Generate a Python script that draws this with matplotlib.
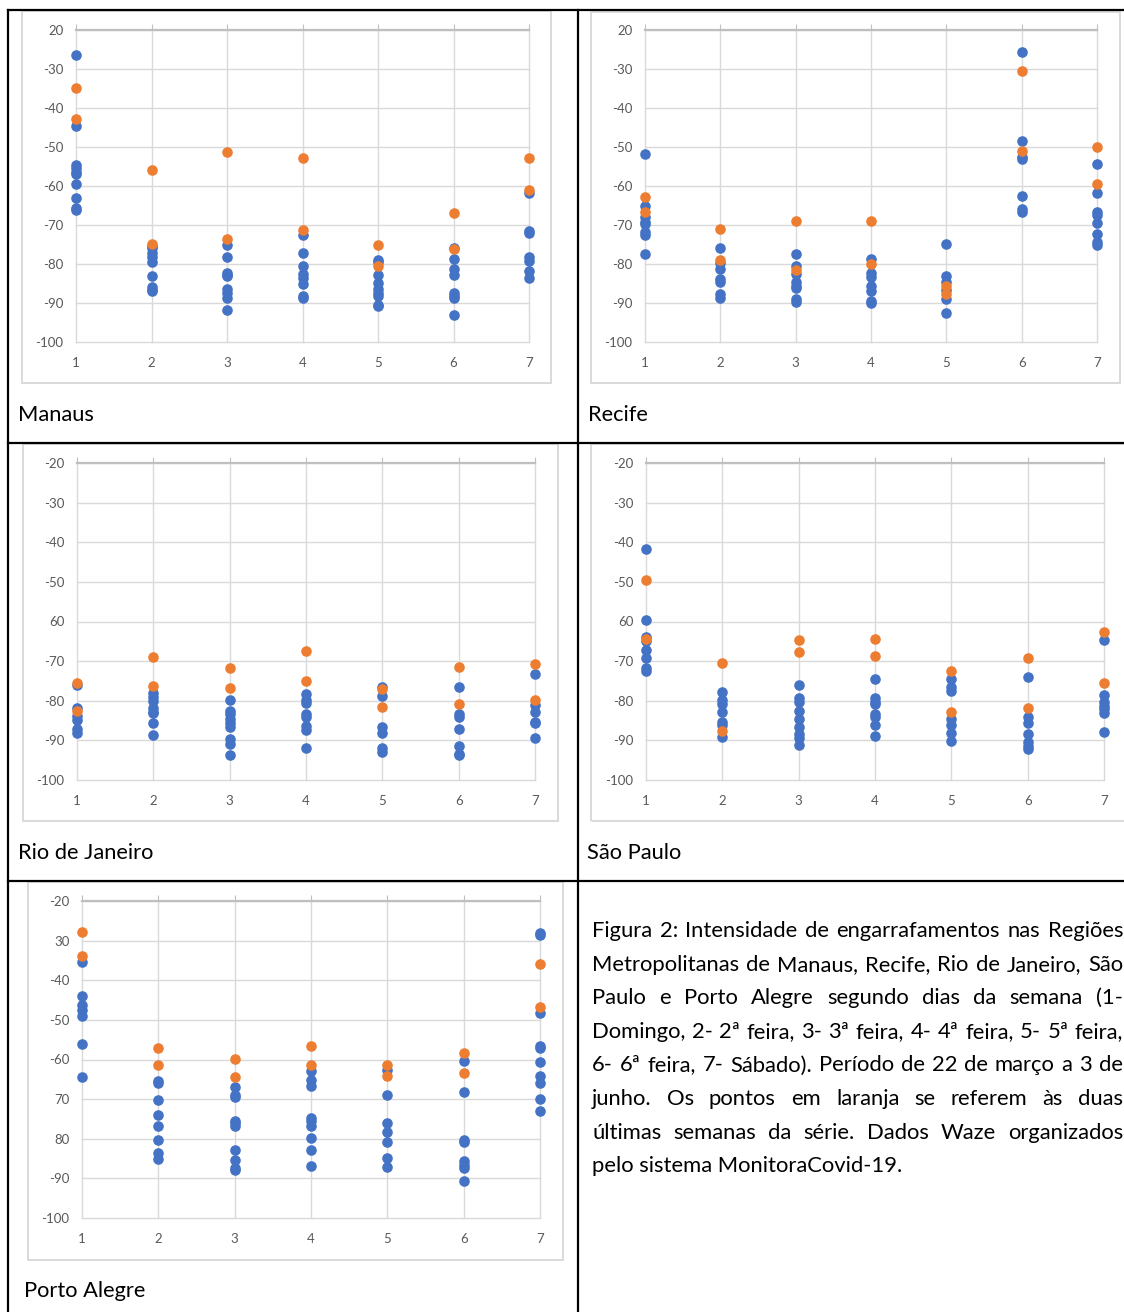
import matplotlib.pyplot as plt
from matplotlib.lines import Line2D
from matplotlib.patches import Rectangle

W, H = 1124, 1312

days = [1, 2, 3, 4, 5, 6, 7]
y_ticks = [-100, -90, -80, -70, -60, -50, -40, -30, -20]

# values read per day (1..7); orange = last two weeks
manaus_blue = [
    [-26.4, -44.6, -54.7, -55.5, -56.4, -57.0, -59.6, -63.2, -65.7, -66.2],
    [-75.5, -76.0, -77.2, -78.1, -79.5, -83.2, -85.8, -86.6, -87.0],
    [-75.0, -78.2, -82.2, -82.8, -83.2, -86.4, -87.5, -88.7, -91.7],
    [-72.6, -77.2, -80.4, -82.5, -83.7, -85.1, -88.3, -88.7],
    [-79.0, -79.4, -82.8, -84.9, -86.4, -87.5, -88.3, -90.4, -90.7],
    [-76.0, -78.8, -81.3, -82.8, -87.5, -88.3, -88.7, -93.0],
    [-61.9, -71.5, -72.1, -78.1, -79.2, -81.8, -83.5],
]
manaus_orange = [
    [-34.9, -42.8], [-55.9, -74.9], [-51.3, -73.7], [-52.8, -71.3],
    [-75.1, -80.5], [-66.8, -76.2], [-52.8, -60.9],
]
manaus_labels = ["-100", "-90", "-80", "-70", "-60", "-50", "-40", "-30", "20"]

recife_blue = [
    [-51.9, -65.1, -67.9, -69.2, -69.7, -71.9, -72.6, -77.4],
    [-75.8, -79.8, -81.3, -83.9, -84.5, -87.6, -88.6],
    [-77.4, -80.4, -82.5, -84.7, -85.6, -86.2, -89.0, -89.8],
    [-78.8, -82.4, -83.4, -85.6, -87.0, -89.6, -90.0],
    [-74.9, -83.2, -84.5, -86.6, -89.0, -92.6],
    [-25.7, -48.5, -52.5, -53.2, -62.6, -66.0, -66.6],
    [-54.4, -61.7, -66.6, -67.4, -69.6, -72.4, -74.3, -75.1],
]
recife_orange = [
    [-62.9, -66.6], [-71.0, -78.9], [-69.0, -81.5], [-68.9, -80.1],
    [-85.6, -87.6], [-30.6, -51.1], [-50.0, -59.4],
]
recife_labels = ["-100", "-90", "-80", "-70", "-60", "-50", "-40", "-30", "20"]

rio_blue = [
    [-76.0, -81.9, -83.9, -84.9, -87.2, -88.1],
    [-78.0, -79.0, -80.0, -81.9, -82.8, -83.2, -85.7, -88.7],
    [-79.8, -82.5, -83.4, -84.5, -85.5, -86.6, -89.7, -90.8, -93.7],
    [-78.2, -79.8, -80.5, -83.4, -84.2, -86.4, -87.4, -91.8],
    [-76.6, -78.8, -86.6, -88.1, -92.0, -92.9],
    [-76.5, -83.4, -84.2, -87.2, -91.3, -93.4, -93.8],
    [-73.3, -81.1, -82.8, -85.3, -85.5, -89.5],
]
rio_orange = [
    [-75.6, -82.5], [-68.9, -76.2], [-71.8, -76.9], [-67.4, -75.0],
    [-77.1, -81.5], [-71.4, -80.7], [-70.8, -79.7],
]
rio_labels = ["-100", "-90", "-80", "-70", "60", "-50", "-40", "-30", "-20"]

sp_blue = [
    [-41.6, -59.7, -63.9, -65.0, -67.1, -69.3, -71.8, -72.4],
    [-77.7, -79.8, -80.7, -82.9, -85.3, -86.1, -89.1],
    [-75.9, -79.2, -80.3, -82.5, -84.6, -86.6, -88.5, -89.3, -91.2],
    [-74.4, -79.2, -80.3, -80.8, -83.4, -84.2, -86.0, -88.8],
    [-74.6, -76.5, -77.5, -84.5, -86.1, -88.2, -90.1],
    [-74.1, -84.0, -85.7, -88.4, -90.3, -91.4, -92.3],
    [-64.7, -78.6, -80.3, -81.3, -82.2, -83.2, -87.8],
]
sp_orange = [
    [-49.6, -64.5], [-70.4, -87.6], [-64.7, -67.8], [-64.4, -68.7],
    [-72.5, -82.8], [-69.1, -81.9], [-62.6, -75.6],
]
sp_labels = ["-100", "-90", "-80", "-70", "60", "-50", "-40", "-30", "-20"]

poa_blue = [
    [-35.5, -43.9, -46.2, -47.5, -48.9, -56.1, -64.5],
    [-65.4, -66.0, -70.2, -74.1, -76.9, -80.3, -83.6, -85.1],
    [-67.0, -68.9, -69.5, -75.4, -76.1, -76.9, -82.8, -85.3, -87.4, -87.8],
    [-62.9, -65.1, -66.8, -74.8, -75.6, -76.9, -79.7, -82.8, -87.0],
    [-62.6, -68.9, -75.9, -78.2, -80.9, -84.9, -87.1],
    [-60.3, -68.2, -80.3, -80.9, -85.7, -86.6, -87.4, -90.6],
    [-28.2, -28.6, -48.3, -56.7, -57.1, -60.7, -64.1, -66.0, -69.9, -72.9],
]
poa_orange = [
    [-27.7, -34.0], [-57.0, -61.5], [-59.9, -64.5], [-56.6, -61.3],
    [-61.3, -64.1], [-58.4, -63.3], [-36.0, -46.8],
]
poa_labels = ["-100", "-90", "80", "70", "-60", "-50", "-40", "30", "-20"]

city_names = ["Manaus", "Recife", "Rio de Janeiro", "São Paulo", "Porto Alegre"]

caption_lines = [
    "Figura 2: Intensidade de engarrafamentos nas Regiões",
    "Metropolitanas de Manaus, Recife, Rio de Janeiro, São",
    "Paulo e Porto Alegre segundo dias da semana (1-",
    "Domingo, 2- 2ª feira, 3- 3ª feira, 4- 4ª feira, 5- 5ª feira,",
    "6- 6ª feira, 7- Sábado). Período de 22 de março a 3 de",
    "junho. Os pontos em laranja se referem às duas",
    "últimas semanas da série. Dados Waze organizados",
    "pelo sistema MonitoraCovid-19.",
]

BLUE = "#4472C4"
ORANGE = "#ED7D31"
GRID = "#D9D9D9"

plt.rcParams["font.family"] = ["Lato", "DejaVu Sans"]

panels = [
    (manaus_blue, manaus_orange, manaus_labels),
    (recife_blue, recife_orange, recife_labels),
    (rio_blue, rio_orange, rio_labels),
    (sp_blue, sp_orange, sp_labels),
    (poa_blue, poa_orange, poa_labels),
]

# layout in pixels: plot area (x0, y0, x1, y1), chart box, caption (x, baseline)
plot_px = [(76, 30, 529, 342), (645, 30, 1097, 342), (77, 463, 535, 780),
           (646, 463, 1104, 780), (82, 901, 540, 1218)]
box_px = [(22, 11, 551, 383), (591, 12, 1120, 383), (23, 444, 558, 821),
          (591, 444, 1130, 821), (28, 882, 563, 1260)]
name_px = [(18, 421), (588, 421), (18, 859), (587, 859), (24, 1297)]


def fx(x):
    return x / W


def fy(y):
    return 1 - y / H


fig = plt.figure(figsize=(W / 100, H / 100), dpi=100)
renderer = fig.canvas.get_renderer()


def fit_size(text, target):
    t = fig.text(0, 0, text, fontsize=10)
    w = t.get_window_extent(renderer).width
    t.remove()
    return 10 * target / w


def hline(y, x0, x1, **kw):
    fig.add_artist(Line2D([fx(x0), fx(x1)], [fy(y), fy(y)], **kw))


def vline(x, y0, y1, **kw):
    fig.add_artist(Line2D([fx(x), fx(x)], [fy(y0), fy(y1)], **kw))


# table borders
for y in [10, 443, 881]:
    hline(y, 8, W + 5, color="black", lw=1.6)
for x in [8, 578]:
    vline(x, 10, H + 5, color="black", lw=1.6)

tick_size = fit_size("-100", 28)
name_size = fit_size("Rio de Janeiro", 136)

for (blue, orange, labels), p, b, n, name in zip(panels, plot_px, box_px, name_px, city_names):
    fig.add_artist(Rectangle((fx(b[0]), fy(b[3])), (b[2] - b[0]) / W, (b[3] - b[1]) / H,
                             transform=fig.transFigure, fill=False, edgecolor=GRID, lw=1.4))
    ax = fig.add_axes([fx(p[0]), fy(p[3]), (p[2] - p[0]) / W, (p[3] - p[1]) / H])
    ax.set_xlim(1, 7)
    ax.set_ylim(-100, -20)
    ax.set_xticks(days)
    ax.set_yticks(y_ticks)
    ax.set_yticklabels(labels)
    ax.grid(True, color=GRID, lw=1.0)
    for gl in ax.get_xgridlines() + ax.get_ygridlines():
        gl.set_clip_on(False)
    ax.set_axisbelow(True)
    for side in ["left", "right", "bottom"]:
        ax.spines[side].set_visible(False)
    ax.spines["top"].set_color("#BFBFBF")
    ax.spines["top"].set_linewidth(1.6)
    ax.tick_params(axis="x", top=True, bottom=False, labeltop=False, labelbottom=True,
                   direction="out", length=4, color="#BFBFBF", pad=7,
                   labelsize=tick_size, labelcolor="#595959")
    ax.tick_params(axis="y", length=0, pad=9, labelsize=tick_size, labelcolor="#595959")

    bx = [d for d, vals in zip(days, blue) for _ in vals]
    by = [v for vals in blue for v in vals]
    ox = [d for d, vals in zip(days, orange) for _ in vals]
    oy = [v for vals in orange for v in vals]
    ax.scatter(bx, by, s=58, color=BLUE, linewidths=0, clip_on=False, zorder=3)
    ax.scatter(ox, oy, s=58, color=ORANGE, linewidths=0, clip_on=False, zorder=4)

    fig.text(fx(n[0]), fy(n[1]), name, fontsize=name_size, va="baseline", color="black")

# justified caption in the bottom-right cell
left, right = 592, 1123
cap_size = fit_size(caption_lines[-1], 311)
for i, line in enumerate(caption_lines):
    yb = fy(937 + i * 33.6)
    if i == len(caption_lines) - 1:
        fig.text(fx(left), yb, line, fontsize=cap_size, va="baseline")
        continue
    words = line.split(" ")
    objs = [fig.text(0, yb, w_, fontsize=cap_size, va="baseline") for w_ in words]
    widths = [o.get_window_extent(renderer).width for o in objs]
    gap = (right - left - sum(widths)) / (len(words) - 1)
    x = left
    for o, w_ in zip(objs, widths):
        o.set_x(fx(x))
        x += w_ + gap

fig.savefig("out.png", dpi=100)
